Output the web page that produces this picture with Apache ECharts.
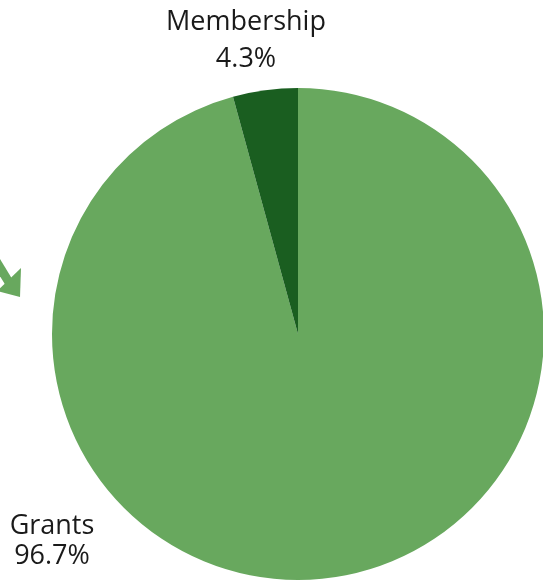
<!DOCTYPE html>
<html><head><meta charset="utf-8">
<script src="https://cdn.jsdelivr.net/npm/echarts@6/dist/echarts.min.js"></script>
<style>html,body{margin:0;padding:0;background:#fff}#c{width:543px;height:581px}</style>
</head><body><div id="c"></div>
<script>
const categories = ['Grants', 'Membership'];
const values = [96.7, 4.3];
const labelsText = ['96.7%', '4.3%'];
const colors = ['#68a85e', '#1a5e20'];

const chart = echarts.init(document.getElementById('c'), null, {renderer: 'canvas'});
const labelPos = [
  {x: 52, y: 541, lh: 30},
  {x: 246, y: 41, lh: 37}
];
chart.setOption({
  animation: false,
  backgroundColor: '#fff',
  series: [{
    type: 'pie',
    center: [298, 334],
    radius: [0, 246],
    startAngle: 90,
    clockwise: true,
    data: categories.map((c, i) => ({
      name: c, value: values[i],
      itemStyle: {color: colors[i]},
      label: {lineHeight: labelPos[i].lh}
    })),
    label: {
      show: true,
      position: 'outside',
      formatter: p => p.name + '\n' + labelsText[p.dataIndex],
      fontFamily: 'Open Sans',
      fontSize: 27,
      color: '#1a1a1a',
      align: 'center'
    },
    labelLine: {show: false},
    labelLayout: p => ({
      x: labelPos[p.dataIndex].x,
      y: labelPos[p.dataIndex].y,
      align: 'center',
      verticalAlign: 'middle'
    })
  }],
  graphic: [{
    type: 'polyline',
    shape: {points: [[-12, 248], [10, 284]]},
    style: {stroke: '#68a85e', lineWidth: 9}
  }, {
    type: 'polygon',
    shape: {points: [[21, 268], [20, 297], [-3, 291]]},
    style: {fill: '#68a85e'}
  }]
});
</script></body></html>
